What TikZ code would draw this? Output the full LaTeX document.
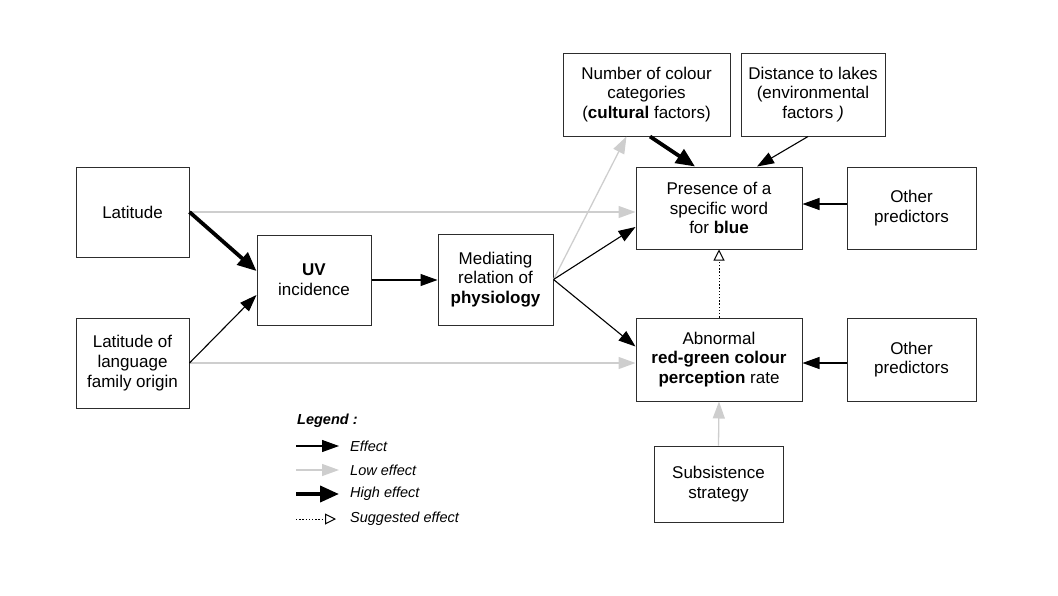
\documentclass[tikz,border=0pt]{standalone}
\usepackage{fontspec}
\setmainfont{Liberation Sans}
\usetikzlibrary{arrows.meta,calc}
\definecolor{lowgray}{RGB}{206,206,206}
\definecolor{boxline}{RGB}{45,45,45}
\tikzset{
  box/.style={draw=boxline, line width=1pt, fill=white, inner sep=0pt, align=center,
    font=\fontsize{17}{19.6}\selectfont},
  effect/.style={draw=black, line width=1.1pt, -{Triangle[length=17pt,width=12pt]}},
  loweff/.style={draw=lowgray, line width=1.3pt, -{Triangle[length=17pt,width=12pt]}},
  higheff/.style={draw=black, line width=3.8pt, -{Triangle[length=19pt,width=16pt]}},
  suggeff/.style={draw=black, line width=1pt, dash pattern=on 1.3pt off 1.9pt, -{Triangle[open,length=11pt,width=11pt,line width=1pt]}},
  legtext/.style={anchor=west, inner sep=0pt, font=\fontsize{14.5}{16}\selectfont\itshape},
}
\begin{document}
\begin{tikzpicture}[x=1pt,y=-1pt]
\useasboundingbox (0,0) rectangle (1058,595);

% boxes
\node[box, minimum width=113pt, minimum height=90pt] (lat) at (132.5,212) {Latitude};
\node[box, minimum width=113pt, minimum height=90pt] (latl) at (132.5,363) {Latitude of\\language\\family origin};
\node[box, minimum width=114pt, minimum height=90pt] (uv) at (314,280) {\textbf{UV}\\incidence};
\node[box, minimum width=115pt, minimum height=91pt] (med) at (495.5,279.5) {Mediating\\relation of\\\textbf{physiology}};
\node[box, minimum width=167pt, minimum height=83pt] (num) at (646.5,94.5) {Number of colour\\categories\\(\textbf{cultural} factors)};
\node[box, minimum width=144pt, minimum height=83pt] (dist) at (813,94.5) {Distance to lakes\\(environmental\\factors \textit{)}};
\node[box, minimum width=166pt, minimum height=82pt] (pres) at (719,208) {Presence of a\\specific word\\for \textbf{blue}};
\node[box, minimum width=129pt, minimum height=82pt] (oth1) at (911.5,208) {Other\\predictors};
\node[box, minimum width=166pt, minimum height=83pt] (abn) at (719,359.5) {Abnormal\\\textbf{red-green colour}\\\textbf{perception} rate};
\node[box, minimum width=129pt, minimum height=83pt] (oth2) at (911.5,359.5) {Other\\predictors};
\node[box, minimum width=129pt, minimum height=76pt] (sub) at (718.5,484) {Subsistence\\strategy};

% connectors
\draw[loweff] (lat.east) -- ([yshift=-4pt]pres.west);
\draw[loweff] (latl.east) -- ([yshift=-3.5pt]abn.west);
\draw[higheff] (lat.east) -- ([yshift=9pt]uv.west);
\draw[effect] (latl.east) -- ([yshift=-15pt]uv.west);
\draw[effect] (uv.east) -- (med.west |- uv.east);
\draw[loweff] (med.east) -- ([xshift=-20pt]num.south);
\draw[effect] (med.east) -- ([yshift=-19pt]pres.west);
\draw[effect] (med.east) -- ([yshift=13pt]abn.west);
\draw[higheff] ([xshift=3.5pt]num.south) -- ([xshift=-24pt]pres.north);
\draw[effect] ([xshift=-5pt]dist.south) -- ([xshift=38pt]pres.north);
\draw[effect] ([yshift=4pt]oth1.west) -- ([yshift=4pt]pres.east);
\draw[effect] ([yshift=-3.5pt]oth2.west) -- ([yshift=-3.5pt]abn.east);
\draw[loweff] (sub.north) -- (abn.south);
\draw[suggeff] (abn.north) -- (pres.south);

% legend
\node[anchor=west, inner sep=0pt, font=\fontsize{14.5}{16}\selectfont\bfseries\itshape] (legtitle) at (297,421) {Legend :};
\coordinate (e1) at (296,446); \coordinate (e2) at (339,446);
\coordinate (l1) at (296,470); \coordinate (l2) at (339,470);
\coordinate (h1) at (296,494); \coordinate (h2) at (339,494);
\coordinate (s1) at (296,519); \coordinate (s2) at (336,519);
\draw[effect] (e1) -- (e2);
\draw[loweff] (l1) -- (l2);
\draw[higheff] (h1) -- (h2);
\draw[suggeff] (s1) -- (s2);
\node[legtext] (t1) at (350,446) {Effect};
\node[legtext] (t2) at (350,470) {Low effect};
\node[legtext] (t3) at (350,494) {High effect};
\node[legtext] (t4) at (350,519) {Suggested effect};
\end{tikzpicture}
\end{document}
